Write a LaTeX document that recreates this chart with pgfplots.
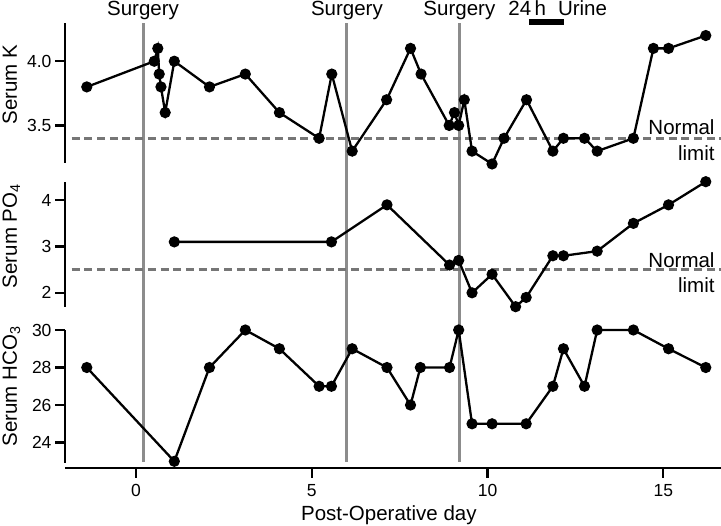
\documentclass[border=0pt]{standalone}
\usepackage{fontspec}
\setmainfont{Liberation Sans}
\usepackage{pgfplots}
\pgfplotsset{compat=1.18}
\definecolor{surg}{RGB}{140,140,140}
\definecolor{lim}{RGB}{118,118,118}
\newcommand{\lab}{\fontsize{20.5}{24}\selectfont}
\newcommand{\tck}{\fontsize{17.5}{20}\selectfont}
\pgfplotsset{
  panel/.style={scale only axis, width=655.9pt, xmin=-2.02, xmax=16.64, clip=false,
    axis y line*=left, ytick pos=left, axis line style={-, line width=2.2pt},
    tick align=outside, major tick length=10pt, major tick style={black, line width=2.2pt},
    tick label style={font=\tck}, /pgf/number format/assume math mode=true,
    ylabel style={rotate=0, anchor=base, font=\lab},
  },
  ser/.style={black, line width=2.3pt, mark=*, mark size=4.4pt, mark options={solid, fill=black}},
  nl/.style={lim, line width=2.5pt, dash pattern=on 8pt off 4.7pt},
}
\begin{document}
\begin{tikzpicture}
% surgery lines and top annotations
\begin{axis}[hide axis, scale only axis, width=655.9pt, height=439pt, xmin=-2.02, xmax=16.64,
  ymin=0, ymax=1, clip=false, at={(65pt,-461.7pt)}, anchor=south west]
\addplot[surg, line width=3pt] coordinates {(0.2,0) (0.2,1)};
\addplot[surg, line width=3pt] coordinates {(6.0,0) (6.0,1)};
\addplot[surg, line width=3pt] coordinates {(9.2,0) (9.2,1)};
\addplot[black, line width=6pt] coordinates {(11.18,1.0005) (12.18,1.0005)};
\node[font=\lab, anchor=base] at (axis cs:0.2,1.0175) {Surgery};
\node[font=\lab, anchor=base] at (axis cs:6.0,1.0175) {Surgery};
\node[font=\lab, anchor=base] at (axis cs:9.2,1.0175) {Surgery};
\node[font=\lab, anchor=base west, inner sep=0pt] at (axis cs:10.59,1.0153) {24\,h\hspace{12pt}Urine};
\end{axis}

% Serum K
\begin{axis}[panel, height=140pt, ymin=3.21, ymax=4.30, at={(65pt,-162.7pt)}, anchor=south west,
  hide x axis, ytick={3.5,4.0},
  yticklabel style={/pgf/number format/.cd, fixed, fixed zerofill, precision=1},
  ylabel={Serum K}, ylabel style={at={(axis description cs:-0.0732,0.557)}}]
\addplot[nl] coordinates {(-1.83,3.4) (16.64,3.4)};
\addplot[ser] coordinates {
(-1.40,3.8) (0.52,4.0) (0.62,4.1) (0.66,3.9) (0.71,3.8) (0.83,3.6) (1.09,4.0)
(2.09,3.8) (3.11,3.9) (4.08,3.6) (5.21,3.4) (5.57,3.9) (6.15,3.3) (7.13,3.7)
(7.81,4.1) (8.11,3.9) (8.91,3.5) (9.06,3.6) (9.18,3.5) (9.34,3.7) (9.56,3.3)
(10.13,3.2) (10.47,3.4) (11.11,3.7) (11.86,3.3) (12.16,3.4) (12.76,3.4)
(13.12,3.3) (14.15,3.4) (14.72,4.1) (15.15,4.1) (16.21,4.2)};
\node[font=\lab, anchor=base east, yshift=3.5pt] at (axis cs:16.56,3.4) {Normal};
\node[font=\lab, anchor=base east, yshift=-22.5pt] at (axis cs:16.56,3.4) {limit};
\end{axis}

% Serum PO4
\begin{axis}[panel, height=125pt, ymin=1.70, ymax=4.40, at={(65pt,-306.7pt)}, anchor=south west,
  hide x axis, ytick={2,3,4},
  ylabel={Serum PO\textsubscript{4}}, ylabel style={at={(axis description cs:-0.0732,0.564)}}]
\addplot[nl] coordinates {(-1.83,2.5) (16.64,2.5)};
\addplot[ser] coordinates {
(1.09,3.1) (5.56,3.1) (7.14,3.9) (8.92,2.6) (9.18,2.7) (9.56,2.0) (10.13,2.4)
(10.8,1.7) (11.1,1.9) (11.86,2.8) (12.16,2.8) (13.12,2.9) (14.15,3.5)
(15.15,3.9) (16.21,4.4)};
\node[font=\lab, anchor=base east, yshift=2.5pt] at (axis cs:16.56,2.5) {Normal};
\node[font=\lab, anchor=base east, yshift=-23pt] at (axis cs:16.56,2.5) {limit};
\end{axis}

% Serum HCO3
\begin{axis}[panel, height=137.7pt, ymin=22.66, ymax=30, at={(65pt,-467.7pt)}, anchor=south west,
  axis x line*=bottom, xtick pos=bottom, xtick={0,5,10,15}, ytick={24,26,28,30},
  y axis line style={shorten <=5pt},
  xticklabel style={yshift=-3pt},
  ylabel={Serum HCO\textsubscript{3}}, ylabel style={at={(axis description cs:-0.0732,0.59)}},
  xlabel={Post-Operative day}, xlabel style={at={(axis description cs:0.4938,-0.387)}, anchor=base, font=\lab}]
\addplot[ser] coordinates {
(-1.40,28) (1.09,23) (2.09,28) (3.11,30) (4.08,29) (5.21,27) (5.56,27) (6.15,29)
(7.14,28) (7.81,26) (8.09,28) (8.92,28) (9.18,30) (9.56,25) (10.13,25) (11.1,25)
(11.86,27) (12.16,29) (12.76,27) (13.12,30) (14.15,30) (15.15,29) (16.21,28)};
\end{axis}
\pgfresetboundingbox
\path[use as bounding box] (0,0) rectangle (721pt,-526pt);
\end{tikzpicture}
\end{document}
